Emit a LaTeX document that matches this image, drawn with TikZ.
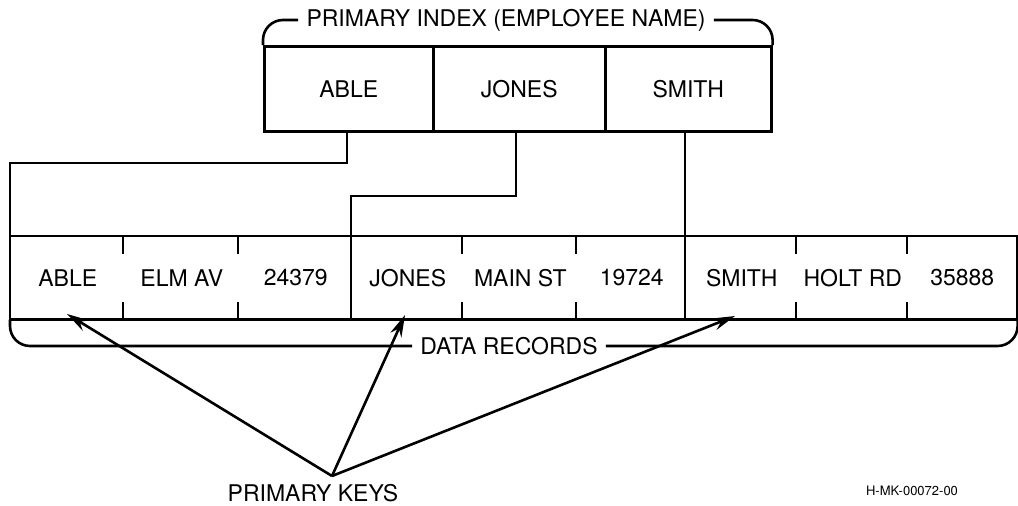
\documentclass[tikz,border=0pt]{standalone}
\usepackage{fontspec}
\setmainfont{TeX Gyre Heros}
\usetikzlibrary{arrows.meta}
\begin{document}
\begin{tikzpicture}[x=1pt,y=-1pt,line width=2.6pt,
  font=\fontsize{23}{27}\selectfont,
  idx/.style={draw,minimum height=85pt,inner sep=0pt,anchor=north west},
  rec/.style={minimum height=81pt,inner sep=0pt,anchor=north west},
  lbl/.style={inner sep=7pt},
  key/.style={-{Stealth[length=22pt,width=12pt]}},
  brk/.style={rounded corners=20pt}]
\useasboundingbox (0,0) rectangle (1018,506);
% primary index
\node[idx,minimum width=169pt] (iable) at (263,45) {ABLE};
\node[idx,minimum width=172pt] (ijones) at (432,45) {JONES};
\node[idx,minimum width=166pt] (ismith) at (604,45) {SMITH};
\node[lbl] (idxlabel) at (506,20) {PRIMARY INDEX (EMPLOYEE NAME)};
\draw[brk] (iable.north west) |- (idxlabel.west);
\draw[brk] (idxlabel.east) -| (ismith.north east);
% data records
\node[rec,minimum width=113pt] (r1) at (10,236) {ABLE};
\node[rec,minimum width=115pt] (r2) at (123,236) {ELM AV};
\node[rec,minimum width=113pt] (r3) at (238,236) {24379};
\node[rec,minimum width=111pt] (r4) at (351,236) {JONES};
\node[rec,minimum width=114pt] (r5) at (462,236) {MAIN ST};
\node[rec,minimum width=109pt] (r6) at (576,236) {19724};
\node[rec,minimum width=111pt] (r7) at (685,236) {SMITH};
\node[rec,minimum width=111pt] (r8) at (796,236) {HOLT RD};
\node[rec,minimum width=108pt] (r9) at (907,236) {35888};
\draw (r1.north west) rectangle (r9.south east);
\draw (r4.north west) -- (r4.south west);
\draw (r7.north west) -- (r7.south west);
\foreach \c in {r2,r3,r5,r6,r8,r9}{
  \draw (\c.north west) -- ++(0,18);
  \draw (\c.south west) -- ++(0,-18);
}
\node[lbl] (reclabel) at (509,346) {DATA RECORDS};
\draw[brk] (r1.south west) |- (reclabel.west);
\draw[brk] (reclabel.east) -| (r9.south east);
% index to records
\draw (iable.south -| 347,0) -- (347,163) -| (r1.north west);
\draw (ijones.south -| 516,0) -- (516,196) -| (r4.north west);
\draw (r7.north west |- ismith.south) -- (r7.north west);
% primary keys
\node (pklabel) at (313,493) {PRIMARY KEYS};
\coordinate (apex) at (332,476);
\coordinate (k1) at (67,314);
\coordinate (k2) at (405,315);
\coordinate (k3) at (735,316);
\draw[key] (apex) -- (k1);
\draw[key] (apex) -- (k2);
\draw[key] (apex) -- (k3);
\node[font=\fontsize{13}{15}\selectfont] (code) at (912,491) {H-MK-00072-00};
\end{tikzpicture}
\end{document}
